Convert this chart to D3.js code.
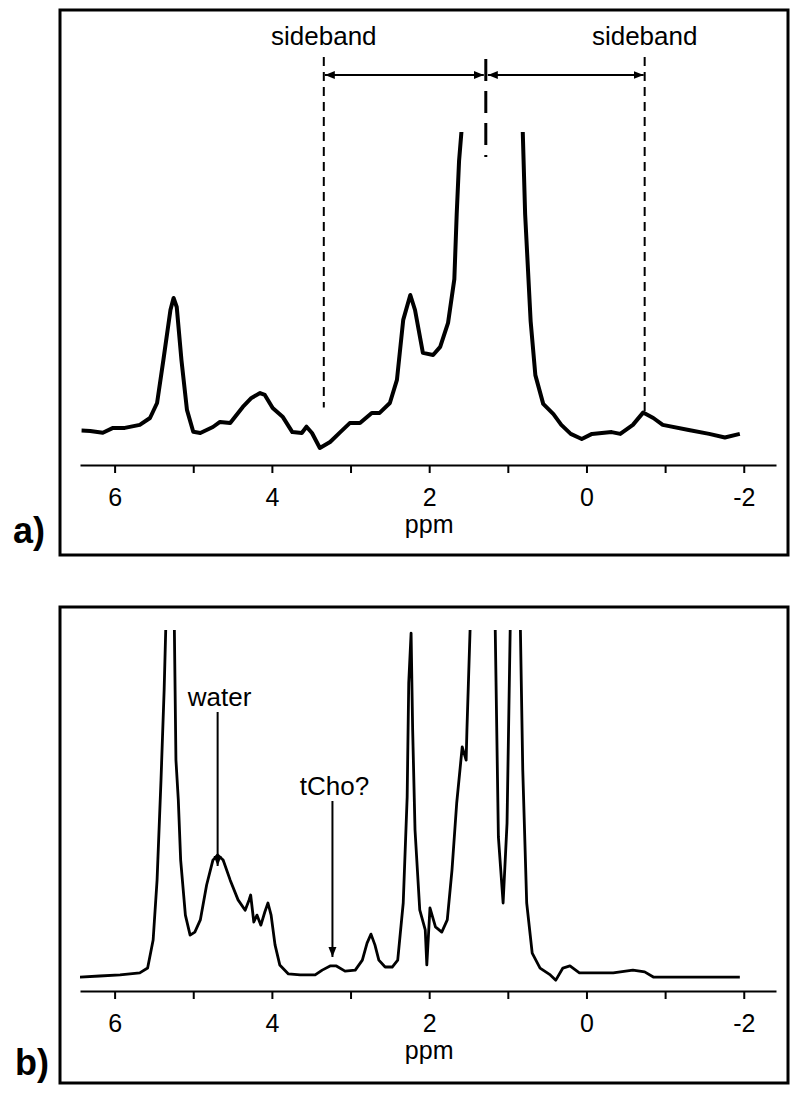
<!DOCTYPE html>
<html>
<head>
<meta charset="utf-8">
<script src="https://cdn.jsdelivr.net/npm/d3@7"></script>
<style>
  body { margin: 0; background: #fff; }
  svg { display: block; }
  text { font-family: "Liberation Sans", Arial, sans-serif; fill: #000; }
</style>
</head>
<body>
<svg width="800" height="1096"></svg>
<script>
// spectrum a) — ppm / intensity (arbitrary units, 0 = baseline)
const ppmA = [6.42, 6.31, 6.15, 6.02, 5.87, 5.68, 5.55, 5.46, 5.38, 5.29, 5.25, 5.21, 5.15, 5.08, 5.00,
  4.91, 4.75, 4.66, 4.53, 4.37, 4.26, 4.15, 4.09, 3.99, 3.86, 3.74, 3.62, 3.56, 3.49, 3.39, 3.26,
  3.13, 3.01, 2.88, 2.73, 2.63, 2.50, 2.41, 2.33, 2.24, 2.18, 2.08, 1.95, 1.86, 1.76, 1.68, 1.65,
  1.62, 1.59, 1.25, 0.81, 0.78, 0.71, 0.65, 0.55, 0.42, 0.32, 0.20, 0.06, -0.07, -0.32, -0.43,
  -0.59, -0.72, -0.85, -0.97, -1.30, -1.56, -1.76, -1.95];
const intA = [-0.2, -0.3, -0.9, 0.7, 0.7, 1.7, 4, 9, 23.3, 40, 44, 41, 23.3, 6.7, -0.6,
  -1, 1, 2.7, 2.3, 7.7, 10.7, 12.3, 11.7, 7.3, 4.3, -0.7, -1, 1.1, -1, -6, -4,
  -0.7, 2.3, 2.3, 5.7, 5.7, 9, 16.7, 36.7, 45, 40, 25.7, 25, 27.7, 35.7, 50.3, 72,
  89.7, 99.3, 400, 99.3, 72, 36.3, 18.3, 8.7, 5.3, 1.7, -1.3, -3, -1.3, -0.7, -1.3,
  1.7, 5.8, 4, 1.7, 0, -1.3, -2.5, -1.3];

// spectrum b)
const ppmB = [6.44, 6.19, 5.93, 5.68, 5.58, 5.51, 5.46, 5.41, 5.37, 5.35, 5.30, 5.24, 5.22, 5.19,
  5.16, 5.10, 5.04, 4.98, 4.91, 4.83, 4.75, 4.69, 4.62, 4.53, 4.43, 4.34, 4.29, 4.27, 4.23, 4.19,
  4.14, 4.09, 4.05, 4.01, 3.96, 3.90, 3.79, 3.64, 3.45, 3.36, 3.26, 3.18, 3.07, 2.94, 2.85, 2.79,
  2.74, 2.69, 2.64, 2.56, 2.47, 2.40, 2.33, 2.28, 2.26, 2.23, 2.21, 2.18, 2.12, 2.05, 2.03, 1.99,
  1.92, 1.84, 1.77, 1.71, 1.65, 1.58, 1.53, 1.52, 1.48, 1.33, 1.16, 1.12, 1.06, 1.01, 0.97, 0.91,
  0.84, 0.81, 0.76, 0.69, 0.59, 0.46, 0.39, 0.30, 0.21, 0.09, -0.34, -0.59, -0.74, -0.85, -1.19, -1.95];
const intB = [-0.3, 0, 0.3, 0.9, 2.3, 10.4, 27.7, 56.6, 82.7, 100, 130, 100, 62.4, 50.9,
  33.5, 17.6, 11.8, 12.7, 16.2, 26.3, 33.5, 35, 33.5, 27.7, 22, 19, 22, 23.4, 15.6, 17.6,
  14.7, 18.5, 21.1, 17.6, 9, 3.2, 0.6, 0.3, 0.3, 1.7, 2.9, 2.9, 1.4, 1.7, 4.6, 9.5,
  12.1, 9, 4.6, 2.6, 2.6, 4.6, 21.1, 51.7, 84.7, 99.1, 71.1, 42.2, 19.1, 13.3, 3.2, 19.7,
  14.2, 12.7, 16.2, 30.6, 50, 66.2, 62.4, 71.1, 100, 166, 100, 40.2, 21.1, 44.2, 100, 137,
  100, 59.5, 21.1, 6.6, 2.3, 0.3, -1.2, 2.3, 2.9, 0.9, 0.9, 1.7, 1.2, -0.3, -0.3, -0.3];

const tickPpm = [6, 5, 4, 3, 2, 1, 0, -1, -2];
const sidebandPpm = [3.34, -0.74];
const centrePpm = 1.28;
const annotNames = ['water', 'tCho?'];
const annotPpm = [4.69, 3.23];

const svg = d3.select('svg');
const x = d3.scaleLinear().domain([6.44, -2.41]).range([80, 776]);

// panel frames
const panels = [
  {id: 'a', top: 10, bottom: 555, axisY: 465, clipTop: 132, base: 430, unit: 3, lw: 4, label: 'a)', labelX: 13, labelY: 543},
  {id: 'b', top: 607, bottom: 1083, axisY: 991, clipTop: 630, base: 976, unit: 3.46, lw: 2.8, label: 'b)', labelX: 15, labelY: 1075}
];

const defs = svg.append('defs');
defs.append('marker')
  .attr('id', 'head')
  .attr('viewBox', '0 0 10 10')
  .attr('refX', 10).attr('refY', 5)
  .attr('markerWidth', 10).attr('markerHeight', 10)
  .attr('markerUnits', 'userSpaceOnUse')
  .attr('orient', 'auto-start-reverse')
  .append('path')
  .attr('d', 'M0,1 L10,5 L0,9 Z')
  .attr('fill', '#000');

panels.forEach(function (p) {
  svg.append('rect')
    .attr('x', 60).attr('y', p.top)
    .attr('width', 728).attr('height', p.bottom - p.top)
    .attr('fill', 'none').attr('stroke', '#000').attr('stroke-width', 3);

  defs.append('clipPath').attr('id', 'clip-' + p.id)
    .append('rect')
    .attr('x', 60).attr('y', p.clipTop)
    .attr('width', 728).attr('height', p.axisY - p.clipTop);

  p.y = d3.scaleLinear().domain([0, 100]).range([p.base, p.base - 100 * p.unit]);

  const axis = d3.axisBottom(x)
    .tickValues(tickPpm)
    .tickSize(8)
    .tickSizeOuter(0)
    .tickPadding(15)
    .tickFormat(d => d % 2 === 0 ? String(d) : '');

  const g = svg.append('g')
    .attr('transform', `translate(0,${p.axisY})`)
    .call(axis);
  g.select('.domain').attr('stroke-width', 2);
  g.selectAll('.tick line').attr('stroke-width', 2);
  g.selectAll('.tick text')
    .style('font-size', '25px')
    .style('font-family', '"Liberation Sans", Arial, sans-serif');

  svg.append('text')
    .attr('x', x(2)).attr('y', p.axisY + 68)
    .attr('text-anchor', 'middle')
    .style('font-size', '25px')
    .text('ppm');

  svg.append('text')
    .attr('x', p.labelX).attr('y', p.labelY)
    .style('font-size', '36px').style('font-weight', 'bold')
    .text(p.label);
});

// spectra
function drawSpectrum(p, ppm, vals) {
  const line = d3.line()
    .x((d, i) => x(ppm[i]))
    .y(d => p.y(d));
  svg.append('path')
    .datum(vals)
    .attr('d', line)
    .attr('clip-path', `url(#clip-${p.id})`)
    .attr('fill', 'none')
    .attr('stroke', '#000')
    .attr('stroke-width', p.lw)
    .attr('stroke-linejoin', 'round');
}
drawSpectrum(panels[0], ppmA, intA);
drawSpectrum(panels[1], ppmB, intB);

// sideband markers (panel a)
const pa = panels[0];
sidebandPpm.forEach(function (s) {
  svg.append('line')
    .attr('x1', x(s)).attr('x2', x(s))
    .attr('y1', 57).attr('y2', pa.y(s > 0 ? 7.5 : 5.5))
    .attr('stroke', '#000').attr('stroke-width', 2)
    .attr('stroke-dasharray', '9,6');
  svg.append('text')
    .attr('x', x(s)).attr('y', 45)
    .attr('text-anchor', 'middle')
    .style('font-size', '26px')
    .text('sideband');
  svg.append('line')
    .attr('x1', x(centrePpm) + (s > centrePpm ? -2 : 2)).attr('x2', x(s) + (s > centrePpm ? 1 : -1))
    .attr('y1', 75).attr('y2', 75)
    .attr('stroke', '#000').attr('stroke-width', 2)
    .attr('marker-start', 'url(#head)')
    .attr('marker-end', 'url(#head)');
});
svg.append('line')
  .attr('x1', x(centrePpm)).attr('x2', x(centrePpm))
  .attr('y1', 59).attr('y2', 157)
  .attr('stroke', '#000').attr('stroke-width', 3)
  .attr('stroke-dasharray', '22,10');

// annotations (panel b)
const annotTop = [712, 801];
annotNames.forEach(function (name, i) {
  const ax = x(annotPpm[i]);
  svg.append('text')
    .attr('x', ax + 2).attr('y', annotTop[i] - 6)
    .attr('text-anchor', 'middle')
    .style('font-size', '26px')
    .text(name);
  svg.append('line')
    .attr('x1', ax).attr('x2', ax)
    .attr('y1', annotTop[i]).attr('y2', i === 0 ? 866 : 957)
    .attr('stroke', '#000').attr('stroke-width', 2)
    .attr('marker-end', 'url(#head)');
});
</script>
</body>
</html>
